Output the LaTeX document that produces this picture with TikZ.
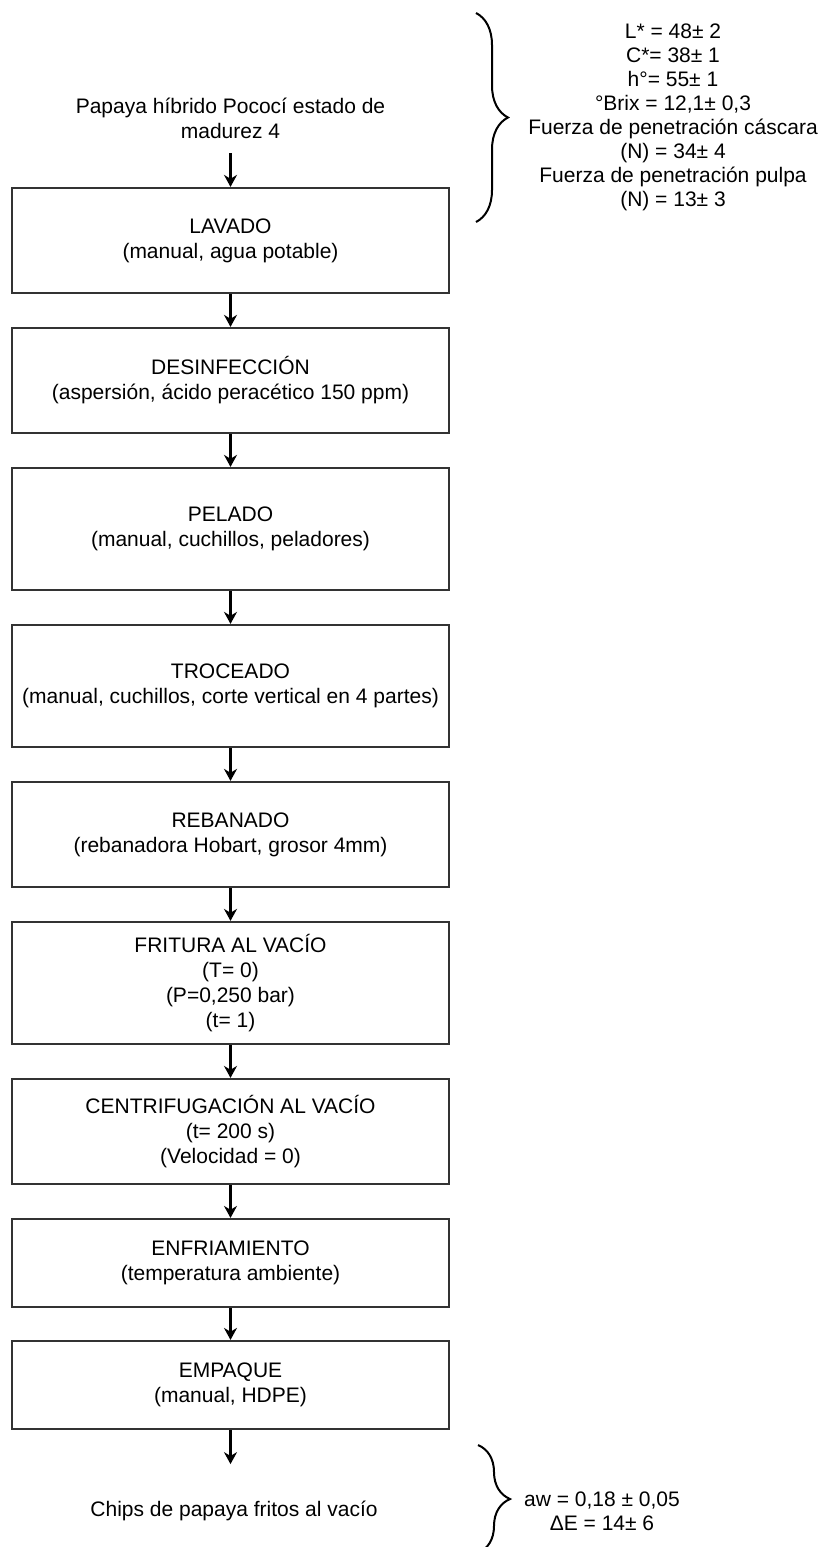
\documentclass[tikz,border=0pt]{standalone}
\usepackage{fontspec}
\setmainfont{Liberation Sans}
\usetikzlibrary{decorations.pathreplacing,arrows.meta}
\begin{document}
\begin{tikzpicture}[x=1pt,y=-1pt,
 paso/.style={draw=black!80,line width=2.2pt,minimum width=437pt,inner sep=0pt,align=center,font=\fontsize{21}{25}\selectfont},
 texto/.style={align=center,font=\fontsize{21}{25}\selectfont},
 flecha/.style={-{Stealth[length=12pt,width=13pt]},line width=2.6pt},
 llave/.style={decorate,decoration={brace,amplitude=32pt},line width=2pt}]
 \clip (0,0) rectangle (822,1547);
 \node[texto] (papaya) at (230.5,118) {Papaya híbrido Pococí estado de\\madurez 4};
 \node[paso,minimum height=105pt] (lavado) at (230.5,240.5) {LAVADO\\(manual, agua potable)};
 \node[paso,minimum height=105pt] (desinfeccion) at (230.5,380.5) {DESINFECCIÓN\\(aspersión, ácido peracético 150 ppm)};
 \node[paso,minimum height=122pt] (pelado) at (230.5,529) {PELADO\\(manual, cuchillos, peladores)};
 \node[paso,minimum height=122pt] (troceado) at (230.5,686) {TROCEADO\\(manual, cuchillos, corte vertical en 4 partes)};
 \node[paso,minimum height=105pt] (rebanado) at (230.5,834.5) {REBANADO\\(rebanadora Hobart, grosor 4mm)};
 \node[paso,minimum height=122pt] (fritura) at (230.5,983) {FRITURA AL VACÍO\\(T= 0)\\(P=0,250 bar)\\(t= 1)};
 \node[paso,minimum height=105pt] (centrifugacion) at (230.5,1131.5) {CENTRIFUGACIÓN AL VACÍO\\(t= 200 s)\\(Velocidad = 0)};
 \node[paso,minimum height=88pt] (enfriamiento) at (230.5,1263) {ENFRIAMIENTO\\(temperatura ambiente)};
 \node[paso,minimum height=88pt] (empaque) at (230.5,1385) {EMPAQUE\\(manual, HDPE)};
 \node[texto] (chips) at (234,1511) {Chips de papaya fritos al vacío};
 \node[texto,font=\fontsize{21}{24}\selectfont] (materia) at (673,117.5) {L* = 48± 2\\C*= 38± 1\\h°= 55± 1\\°Brix = 12,1± 0,3\\Fuerza de penetración cáscara\\(N) = 34± 4\\Fuerza de penetración pulpa\\(N) = 13± 3};
 \node[texto,font=\fontsize{21}{24}\selectfont] (producto) at (602,1511) {aw = 0,18 ± 0,05\\ΔE = 14± 6};
 \draw[flecha] (papaya.center) ++(0,35) -- (lavado.north);
 \draw[flecha] (lavado) -- (desinfeccion);
 \draw[flecha] (desinfeccion) -- (pelado);
 \draw[flecha] (pelado) -- (troceado);
 \draw[flecha] (troceado) -- (rebanado);
 \draw[flecha] (rebanado) -- (fritura);
 \draw[flecha] (fritura) -- (centrifugacion);
 \draw[flecha] (centrifugacion) -- (enfriamiento);
 \draw[flecha] (enfriamiento) -- (empaque);
 \draw[flecha] (empaque.south) -- ++(0,34);
 \draw[llave] (476,13) -- (476,222);
 \draw[llave] (478,1445) -- (478,1553);
\end{tikzpicture}
\end{document}
